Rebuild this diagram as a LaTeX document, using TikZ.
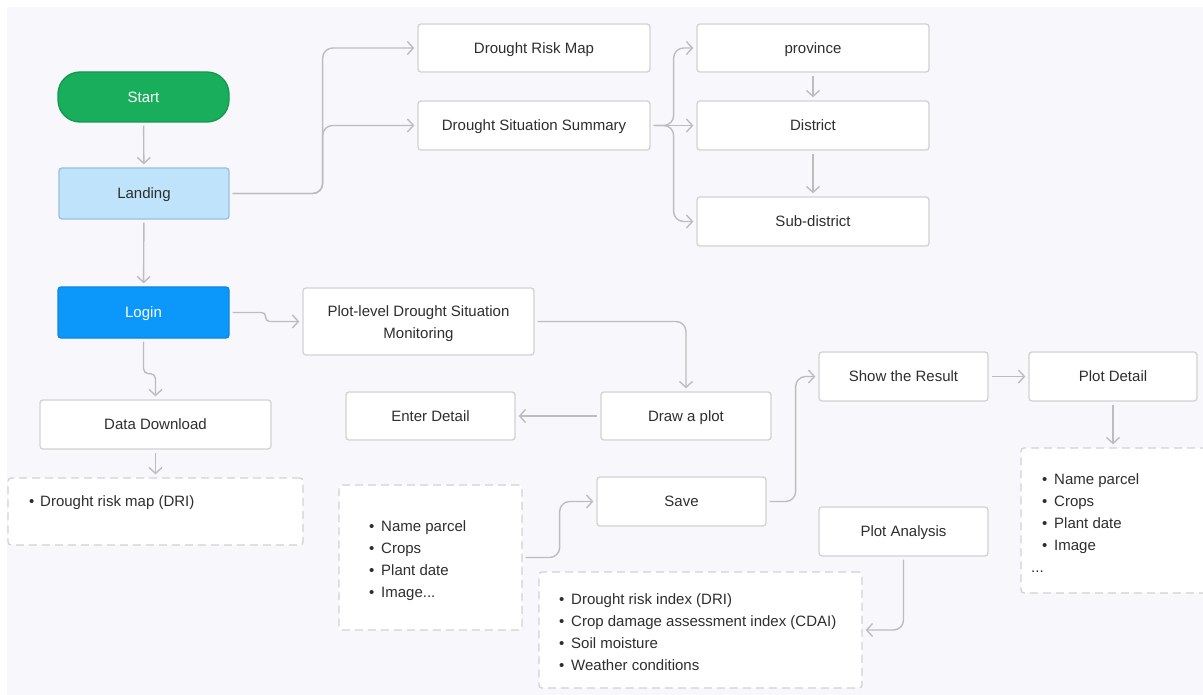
\documentclass[tikz,border=0pt]{standalone}
\usepackage{fontspec}
\setmainfont{Liberation Sans}
\usetikzlibrary{arrows.meta}
\definecolor{bg}{HTML}{F8F7FC}
\definecolor{linec}{HTML}{BDBDBD}
\definecolor{boxc}{HTML}{D2D2D2}
\definecolor{txt}{HTML}{2E2E2E}
\definecolor{startf}{HTML}{18AE5C}
\definecolor{startd}{HTML}{12994E}
\definecolor{landf}{HTML}{BEE3FA}
\definecolor{landd}{HTML}{95C1DE}
\definecolor{loginf}{HTML}{0B98FA}
\definecolor{logind}{HTML}{0A86E0}
\newcommand\bul{\makebox[12pt][l]{•}}
\tikzset{
  base/.style={inner sep=0pt, font=\fontsize{15}{22}\selectfont, text=txt},
  box/.style={base, draw=boxc, line width=1.3pt, fill=white, rounded corners=3pt, text height=10.5pt, text depth=0pt},
  dbox/.style={box, dash pattern=on 8pt off 5pt},
  conn/.style={draw=linec, line width=1.4pt, -{Straight Barb[length=6pt,width=13pt,line width=1.4pt]}, shorten >=3pt, shorten <=3pt, rounded corners=10pt},
  list/.style={base, align=left, anchor=west},
}
\begin{document}
\begin{tikzpicture}[x=1pt,y=-1pt]
\useasboundingbox (0,0) rectangle (1203,695);
\fill[white] (0,0) rectangle (1203,695);
\fill[bg] (7,7) rectangle (1203,695);

% nodes
\node[box, fill=startf, draw=startd, rounded corners=22pt, text=white, minimum width=171, minimum height=50] (start) at (143.5,97) {Start};
\node[box, fill=landf, draw=landd, minimum width=170, minimum height=51] (land) at (144,193.5) {Landing};
\node[box, fill=loginf, draw=logind, text=white, minimum width=171, minimum height=51] (login) at (143.5,312.5) {Login};
\node[box, minimum width=232, minimum height=48] (drm) at (534,48) {Drought Risk Map};
\node[box, minimum width=232, minimum height=49] (dss) at (534,125.5) {Drought Situation Summary};
\node[box, minimum width=232, minimum height=48] (prov) at (813,48) {province};
\node[box, minimum width=232, minimum height=49] (dist) at (813,125.5) {District};
\node[box, minimum width=232, minimum height=49] (sub) at (813,221.5) {Sub-district};
\node[box, align=center, text height=, text depth=, minimum width=231, minimum height=67] (plm) at (418.5,321.5) {\rule{0pt}{16pt}Plot-level Drought Situation\\Monitoring};
\node[box, minimum width=231, minimum height=49] (dd) at (155.5,424.5) {Data Download};
\node[dbox, minimum width=295, minimum height=67] (dri) at (155.5,511.5) {};
\node[box, minimum width=169, minimum height=48] (enter) at (430.5,416) {Enter Detail};
\node[box, minimum width=170, minimum height=48] (draw) at (686,416) {Draw a plot};
\node[box, minimum width=169, minimum height=49] (show) at (903.5,376.5) {Show the Result};
\node[box, minimum width=168, minimum height=49] (pd) at (1113,376.5) {Plot Detail};
\node[dbox, minimum width=190, minimum height=145] (rlist) at (1116,520.5) {};
\node[box, minimum width=169, minimum height=49] (save) at (681.5,501.5) {Save};
\node[dbox, minimum width=183, minimum height=145] (mlist) at (430.5,557.5) {};
\node[box, minimum width=169, minimum height=49] (pa) at (903.5,531.5) {Plot Analysis};
\node[dbox, minimum width=323, minimum height=116] (blist) at (700.5,630) {};

% list texts
\node[list] (drit) at (28,503) {\makebox[12pt][l]{\hspace{1pt}•}Drought risk map (DRI)};
\node[list] (mlt) at (369,561) {\bul Name parcel\\\bul Crops\\\bul Plant date\\\bul Image...};
\node[list] (blt) at (559,632.5) {\bul Drought risk index (DRI)\\\bul Crop damage assessment index (CDAI)\\\bul Soil moisture\\\bul Weather conditions};
\node[list] (rlt) at (1031,523) {\hspace*{11pt}\bul Name parcel\\\hspace*{11pt}\bul Crops\\\hspace*{11pt}\bul Plant date\\\hspace*{11pt}\bul Image\\...};

% connectors
\draw[conn] (start) -- (land);
\draw[conn] (land) -- (login);
\draw[conn] (land.east) -- ++(93,0) |- (drm.west);
\draw[conn] (land.east) -- ++(93,0) |- (dss.west);
\draw[conn] (dss.east) -- ++(23,0) |- (prov.west);
\draw[conn] (dss.east) -- (dist.west);
\draw[conn] (dss.east) -- ++(23,0) |- (sub.west);
\draw[conn] (prov) -- (dist);
\draw[conn] (dist) -- (sub);
\draw[conn, rounded corners=4pt] (login.east) -- ++(36,0) |- (plm.west);
\draw[conn, rounded corners=5pt] (login.south) -- ++(0,35) -| (dd.north);
\draw[conn] (dd.south) -- (dd.south |- dri.north);
\draw[conn] (plm.east) -| (draw.north);
\draw[conn] (draw.west) -- (enter.east);
\draw[conn] (mlist.east) -- ++(37,0) |- (save.west);
\draw[conn] (save.east) -- ++(29,0) |- (show.west);
\draw[conn] (show.east) -- (pd.west);
\draw[conn] (pd.south) -- (pd.south |- rlist.north);
\draw[conn] (pa.south) |- (blist.east);
\end{tikzpicture}
\end{document}
